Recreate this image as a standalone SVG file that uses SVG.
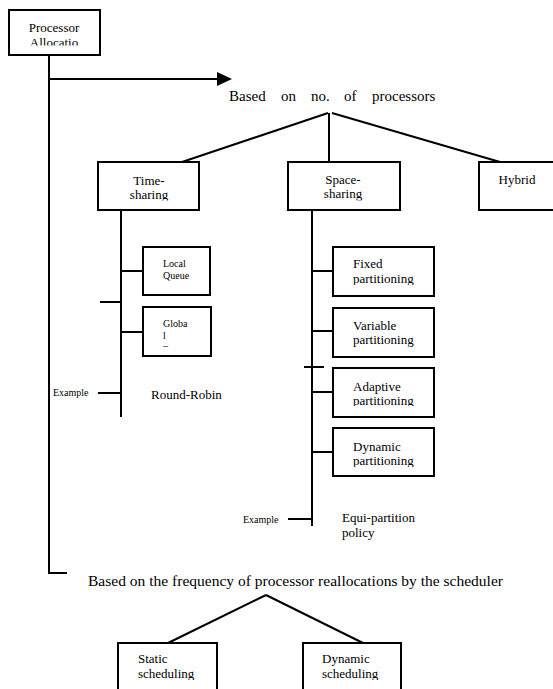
<svg xmlns="http://www.w3.org/2000/svg" width="553" height="689" viewBox="0 0 553 689">
<style>
.box{fill:#fff;stroke:#000;stroke-width:2}
.ln{stroke:#000;stroke-width:2;fill:none}
text{font-family:"Liberation Serif","Times New Roman",serif;fill:#000}
.t13{font-size:13px}
.t10{font-size:10px}
.t15{font-size:15px}
</style>
<defs>
<clipPath id="cPA"><rect x="9" y="10" width="91" height="35.5"/></clipPath>
<clipPath id="cTS"><rect x="98" y="162" width="101" height="38.5"/></clipPath>
<clipPath id="cSS"><rect x="288" y="162" width="112" height="38.5"/></clipPath>
<clipPath id="cFP"><rect x="333" y="247" width="101" height="38"/></clipPath>
<clipPath id="cAP"><rect x="333" y="368" width="101" height="38"/></clipPath>
<clipPath id="cDP"><rect x="333" y="428" width="101" height="39"/></clipPath>
<clipPath id="cSt"><rect x="118" y="643" width="99" height="37"/></clipPath>
<clipPath id="cDy"><rect x="303" y="643" width="98" height="37"/></clipPath>
</defs>
<g id="connectors">
<polyline class="ln" points="49,55 49,573 67,573"/>
<line class="ln" x1="49" y1="79" x2="219" y2="79"/>
<polygon points="217,72 232,79 217,86" fill="#000"/>
<line class="ln" x1="328" y1="113" x2="182" y2="162"/>
<line class="ln" x1="329" y1="113" x2="329" y2="162"/>
<line class="ln" x1="332" y1="113" x2="500" y2="162"/>
<line class="ln" x1="121" y1="210" x2="121" y2="417"/>
<line class="ln" x1="121" y1="271" x2="143" y2="271"/>
<line class="ln" x1="121" y1="332" x2="143" y2="332"/>
<line class="ln" x1="100" y1="302" x2="121" y2="302"/>
<line class="ln" x1="98" y1="393" x2="121" y2="393"/>
<line class="ln" x1="312" y1="210" x2="312" y2="526"/>
<line class="ln" x1="312" y1="271" x2="333" y2="271"/>
<line class="ln" x1="312" y1="331" x2="333" y2="331"/>
<line class="ln" x1="312" y1="392" x2="333" y2="392"/>
<line class="ln" x1="312" y1="452" x2="333" y2="452"/>
<line class="ln" x1="304" y1="367" x2="324" y2="367"/>
<line class="ln" x1="288" y1="519" x2="312" y2="519"/>
<line class="ln" x1="266" y1="595" x2="168" y2="643"/>
<line class="ln" x1="266" y1="595" x2="363" y2="643"/>
</g>
<g id="processor-allocation">
<rect class="box" x="9" y="10" width="91" height="45"/>
<g clip-path="url(#cPA)">
<text class="t13" x="54" y="32" text-anchor="middle">Processor</text>
<text class="t13" x="54" y="47" text-anchor="middle">Allocatio</text>
</g>
</g>
<g id="label-processors">
<text class="t15" x="229" y="101">Based</text>
<text class="t15" x="281" y="101">on</text>
<text class="t15" x="311" y="101">no.</text>
<text class="t15" x="344" y="101">of</text>
<text class="t15" x="372" y="101">processors</text>
</g>
<g id="time-sharing">
<rect class="box" x="98" y="162" width="101" height="48"/>
<g clip-path="url(#cTS)">
<text class="t13" x="149" y="185" text-anchor="middle">Time-</text>
<text class="t13" x="149" y="199" text-anchor="middle">sharing</text>
</g>
</g>
<g id="space-sharing">
<rect class="box" x="288" y="162" width="112" height="48"/>
<g clip-path="url(#cSS)">
<text class="t13" x="343" y="184" text-anchor="middle">Space-</text>
<text class="t13" x="343" y="198" text-anchor="middle">sharing</text>
</g>
</g>
<g id="hybrid">
<rect class="box" x="479" y="162" width="85" height="48"/>
<text class="t13" x="517" y="184" text-anchor="middle">Hybrid</text>
</g>
<g id="local-queue">
<rect class="box" x="143" y="247" width="67" height="48"/>
<text class="t10" x="163" y="267">Local</text>
<text class="t10" x="163" y="279">Queue</text>
</g>
<g id="global">
<rect class="box" x="143" y="307" width="68" height="49"/>
<text class="t10" x="163" y="327">Globa</text>
<text class="t10" x="163" y="339">l</text>
<text class="t10" x="163" y="349">–</text>
</g>
<g id="example-time">
<text class="t10" x="53" y="396">Example</text>
<text class="t13" x="151" y="399">Round-Robin</text>
</g>
<g id="fixed">
<rect class="box" x="333" y="247" width="101" height="49"/>
<g clip-path="url(#cFP)">
<text class="t13" x="353" y="268">Fixed</text>
<text class="t13" x="353" y="283">partitioning</text>
</g>
</g>
<g id="variable">
<rect class="box" x="333" y="308" width="101" height="49"/>
<text class="t13" x="353" y="330">Variable</text>
<text class="t13" x="353" y="344">partitioning</text>
</g>
<g id="adaptive">
<rect class="box" x="333" y="368" width="101" height="49"/>
<g clip-path="url(#cAP)">
<text class="t13" x="353" y="391">Adaptive</text>
<text class="t13" x="353" y="405">partitioning</text>
</g>
</g>
<g id="dynamic-part">
<rect class="box" x="333" y="428" width="101" height="48"/>
<g clip-path="url(#cDP)">
<text class="t13" x="353" y="451">Dynamic</text>
<text class="t13" x="353" y="465">partitioning</text>
</g>
</g>
<g id="example-space">
<text class="t10" x="243" y="523">Example</text>
<text class="t13" x="342" y="522">Equi-partition</text>
<text class="t13" x="342" y="537">policy</text>
</g>
<g id="label-frequency">
<text x="88" y="586" font-size="15.5" textLength="415">Based on the frequency of processor reallocations by the scheduler</text>
</g>
<g id="static">
<rect class="box" x="118" y="643" width="99" height="60"/>
<g clip-path="url(#cSt)">
<text class="t13" x="138" y="663">Static</text>
<text class="t13" x="138" y="678">scheduling</text>
</g>
</g>
<g id="dynamic-sched">
<rect class="box" x="303" y="643" width="98" height="60"/>
<g clip-path="url(#cDy)">
<text class="t13" x="322" y="663">Dynamic</text>
<text class="t13" x="322" y="678">scheduling</text>
</g>
</g>
</svg>
